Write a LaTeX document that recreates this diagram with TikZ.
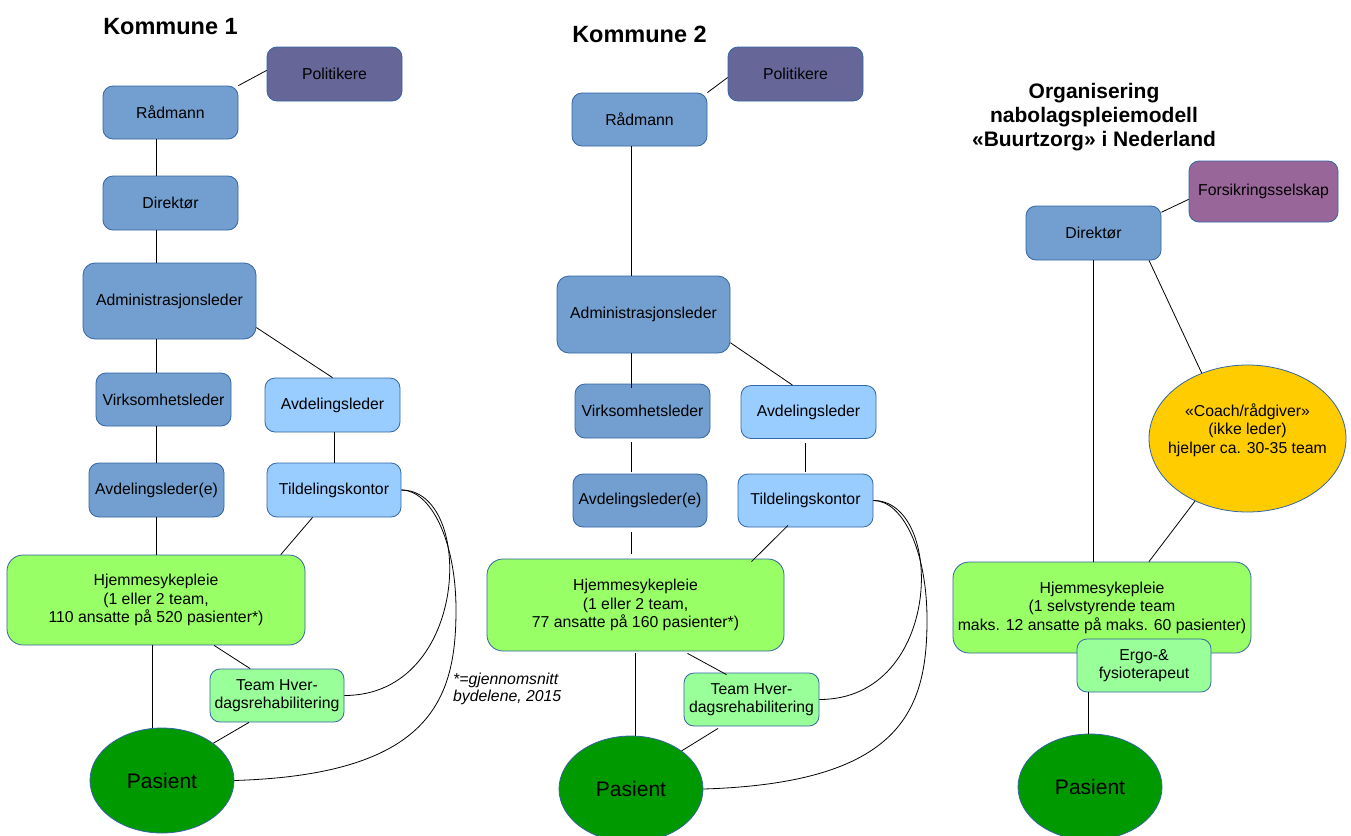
\documentclass[tikz,border=0pt]{standalone}
\usepackage{fontspec}
\setmainfont{Liberation Sans}
\usetikzlibrary{shapes.geometric}

\definecolor{bordc}{HTML}{3465A4}
\definecolor{bluebox}{HTML}{729FCF}
\definecolor{lightbox}{HTML}{99CCFF}
\definecolor{polc}{HTML}{666699}
\definecolor{insc}{HTML}{996699}
\definecolor{homec}{HTML}{99FF66}
\definecolor{teamc}{HTML}{99FF99}
\definecolor{patc}{HTML}{009900}
\definecolor{coachc}{HTML}{FFCC00}

\newcommand\bxfont{\fontsize{15.8}{18.5}\selectfont}

\tikzset{
  unit/.style={draw=bordc, line width=0.8pt, rounded corners=10pt, inner sep=0pt,
               align=center, font=\bxfont, text=black},
  dark/.style={unit, fill=bluebox},
  light/.style={unit, fill=lightbox},
  pol/.style={unit, fill=polc},
  ins/.style={unit, fill=insc},
  home/.style={unit, fill=homec, rounded corners=16pt},
  team/.style={unit, fill=teamc},
  patient/.style={ellipse, draw=bordc, line width=0.8pt, fill=patc, inner sep=0pt,
                  font=\fontsize{21}{24}\selectfont},
  coachshape/.style={ellipse, draw=bordc, line width=0.8pt, fill=coachc, inner sep=0pt},
  link/.style={draw=black, line width=0.8pt},
  title/.style={font=\fontsize{23.5}{27}\selectfont\bfseries, inner sep=0pt},
  bigtitle/.style={font=\fontsize{21}{24}\selectfont\bfseries, inner sep=0pt, align=center},
  note/.style={font=\fontsize{15.8}{17.5}\selectfont\itshape, inner sep=0pt, align=left, anchor=west}
}

\begin{document}
\begin{tikzpicture}[x=1pt, y=-1pt]
\useasboundingbox (0,0) rectangle (1351,835);

% ---------------- Kommune 1 ----------------
\node[title] (t1) at (170.5,27) {Kommune 1};
\node[pol,   minimum width=135pt, minimum height=54pt] (pol1)  at (334.5,74)  {Politikere};
\node[dark,  minimum width=135pt, minimum height=53pt] (rad1)  at (170.5,112.5) {Rådmann};
\node[dark,  minimum width=135pt, minimum height=54pt] (dir1)  at (170.5,203) {Direktør};
\node[dark,  minimum width=173pt, minimum height=76pt, rounded corners=12pt] (adm1) at (169.5,301) {Administrasjonsleder};
\node[dark,  minimum width=135pt, minimum height=53pt] (virk1) at (163.5,399.5) {Virksomhetsleder};
\node[light, minimum width=135pt, minimum height=54pt] (avd1)  at (332.5,405) {Avdelingsleder};
\node[dark,  minimum width=135pt, minimum height=54pt] (avde1) at (156.5,490) {Avdelingsleder(e)};
\node[light, minimum width=134pt, minimum height=54pt] (tild1) at (334,490) {Tildelingskontor};
\node[home,  minimum width=298pt, minimum height=90pt] (hjem1) at (156,600)
  {Hjemmesykepleie\\(1 eller 2 team,\\110 ansatte på 520 pasienter*)};
\node[team,  minimum width=134pt, minimum height=53pt] (team1) at (277,695.5)
  {Team Hver-\\dagsrehabilitering};
\node[patient, minimum width=144pt, minimum height=105pt] (pas1) at (162,780.5) {Pasient};

\draw[link] (rad1.north east) -- (pol1.177);
\draw[link] (rad1.south -| avde1) -- (dir1.north -| avde1);
\draw[link] (dir1.south -| avde1) -- (adm1.north -| avde1);
\draw[link] (adm1.south -| avde1) -- (virk1.north -| avde1);
\draw[link] (virk1.south -| avde1) -- (avde1.north);
\draw[link] (avde1.south) -- (hjem1.north -| avde1);
\draw[link] (adm1.-17) -- (avd1.north);
\draw[link] (avd1.south -| tild1) -- (tild1.north);
\draw[link] (tild1.-128) -- (hjem1.20.6);
\draw[link] (hjem1.-38.8) -- (team1.135.5);
\draw[link] ([xshift=-4pt]hjem1.south) -- ([xshift=-4pt]hjem1.south |- pas1.north);
\draw[link] ([xshift=-28pt]team1.south) -- (pas1.36);
\coordinate (bend1) at (456,610);
\draw[link] (tild1.east) .. controls +(74,0) and +(126,0) .. (team1.east);
\draw[link] (tild1.east) .. controls +(29,0) and +(0,-70) .. (bend1)
            .. controls +(0,90) and +(196,-6) .. (pas1.east);

\node[note] (fn) at (453,689) {*=gjennomsnitt\\bydelene, 2015};

% ---------------- Kommune 2 ----------------
\node[title] (t2) at (639.5,34) {Kommune 2};
\node[pol,   minimum width=135pt, minimum height=54pt] (pol2)  at (795.5,74)  {Politikere};
\node[dark,  minimum width=135pt, minimum height=53pt] (rad2)  at (639.5,119.5) {Rådmann};
\node[dark,  minimum width=173pt, minimum height=77pt, rounded corners=12pt] (adm2) at (643.5,314.5) {Administrasjonsleder};
\node[dark,  minimum width=135pt, minimum height=54pt] (virk2) at (642.5,411) {Virksomhetsleder};
\node[light, minimum width=135pt, minimum height=53pt] (avd2)  at (808.5,412) {Avdelingsleder};
\node[dark,  minimum width=134pt, minimum height=53pt] (avde2) at (640,500.5) {Avdelingsleder(e)};
\node[light, minimum width=135pt, minimum height=53pt] (tild2) at (805.5,500.5) {Tildelingskontor};
\node[home,  minimum width=297pt, minimum height=92pt] (hjem2) at (635.5,605)
  {Hjemmesykepleie\\(1 eller 2 team,\\77 ansatte på 160 pasienter*)};
\node[team,  minimum width=135pt, minimum height=53pt] (team2) at (751.5,699.5)
  {Team Hver-\\dagsrehabilitering};
\node[patient, minimum width=144pt, minimum height=106pt] (pas2) at (631,789) {Pasient};

\draw[link] (rad2.north east) -- (pol2.183);
\draw[link] (rad2.south -| pas2) -- (adm2.north -| pas2);
\draw[link] (adm2.south -| pas2) -- ([yshift=-4pt]virk2.north -| pas2);
\draw[link] ([yshift=-4pt]virk2.south -| pas2) -- ([yshift=2pt]avde2.north -| pas2);
\draw[link] ([yshift=-5pt]avde2.south -| pas2) -- ([yshift=5pt]hjem2.north -| pas2);
\draw[link] (adm2.-18) -- ([xshift=-16pt]avd2.north);
\draw[link] ([yshift=-4pt]avd2.south -| tild2) -- ([yshift=2pt]tild2.north);
\draw[link] ([xshift=-17.5pt, yshift=2pt]tild2.south) -- ([xshift=116pt, yshift=-3pt]hjem2.north);
\draw[link] ([xshift=52pt, yshift=-2pt]hjem2.south) -- ([xshift=-25pt, yshift=-2pt]team2.north);
\draw[link] ([yshift=-2pt]hjem2.south) -- (hjem2.south |- pas2.north);
\draw[link] ([xshift=-33.5pt, yshift=-2pt]team2.south) -- (pas2.37);
\coordinate (bend2) at (927,620);
\draw[link] (tild2.east) .. controls +(72,0) and +(124,0) .. (team2.east);
\draw[link] (tild2.east) .. controls +(29,0) and +(0,-70) .. (bend2)
            .. controls +(0,90) and +(198,-6) .. (pas2.east);

% ---------------- Buurtzorg ----------------
\node[bigtitle] (t3) at (1094,117) {Organisering\\nabolagspleiemodell\\«Buurtzorg» i Nederland};
\node[ins,   minimum width=149pt, minimum height=61pt] (fors) at (1263.5,191.5) {Forsikringsselskap};
\node[dark,  minimum width=135pt, minimum height=54pt] (dir3) at (1093.5,233) {Direktør};
\node[coachshape, minimum width=197pt, minimum height=147pt] (coach) at (1247.5,438.5) {};
\node[font=\bxfont, align=center, inner sep=0pt] (coachtxt) at (1247.5,430)
  {«Coach/rådgiver»\\(ikke leder)\\hjelper ca. 30-35 team};
\node[home,  minimum width=298pt, minimum height=91pt] (hjem3) at (1102,607.5)
  {Hjemmesykepleie\\(1 selvstyrende team\\maks. 12 ansatte på maks. 60 pasienter)};
\node[team,  minimum width=134pt, minimum height=53pt] (ergo) at (1144,665.5)
  {Ergo-\&\\fysioterapeut};
\node[patient, minimum width=144pt, minimum height=106pt] (pas3) at (1090,787) {Pasient};

\draw[link] (dir3.17) -- (fors.-174);
\draw[link] (dir3.south) -- (dir3.south |- hjem3.north);
\draw[link] ([xshift=55.5pt]dir3.south) -- (coach.125);
\draw[link] (coach.-130) -- ([xshift=47pt]hjem3.north);
\draw[link] ([xshift=-2pt]pas3.north |- ergo.south) -- ([xshift=-2pt]pas3.north);
\end{tikzpicture}
\end{document}
